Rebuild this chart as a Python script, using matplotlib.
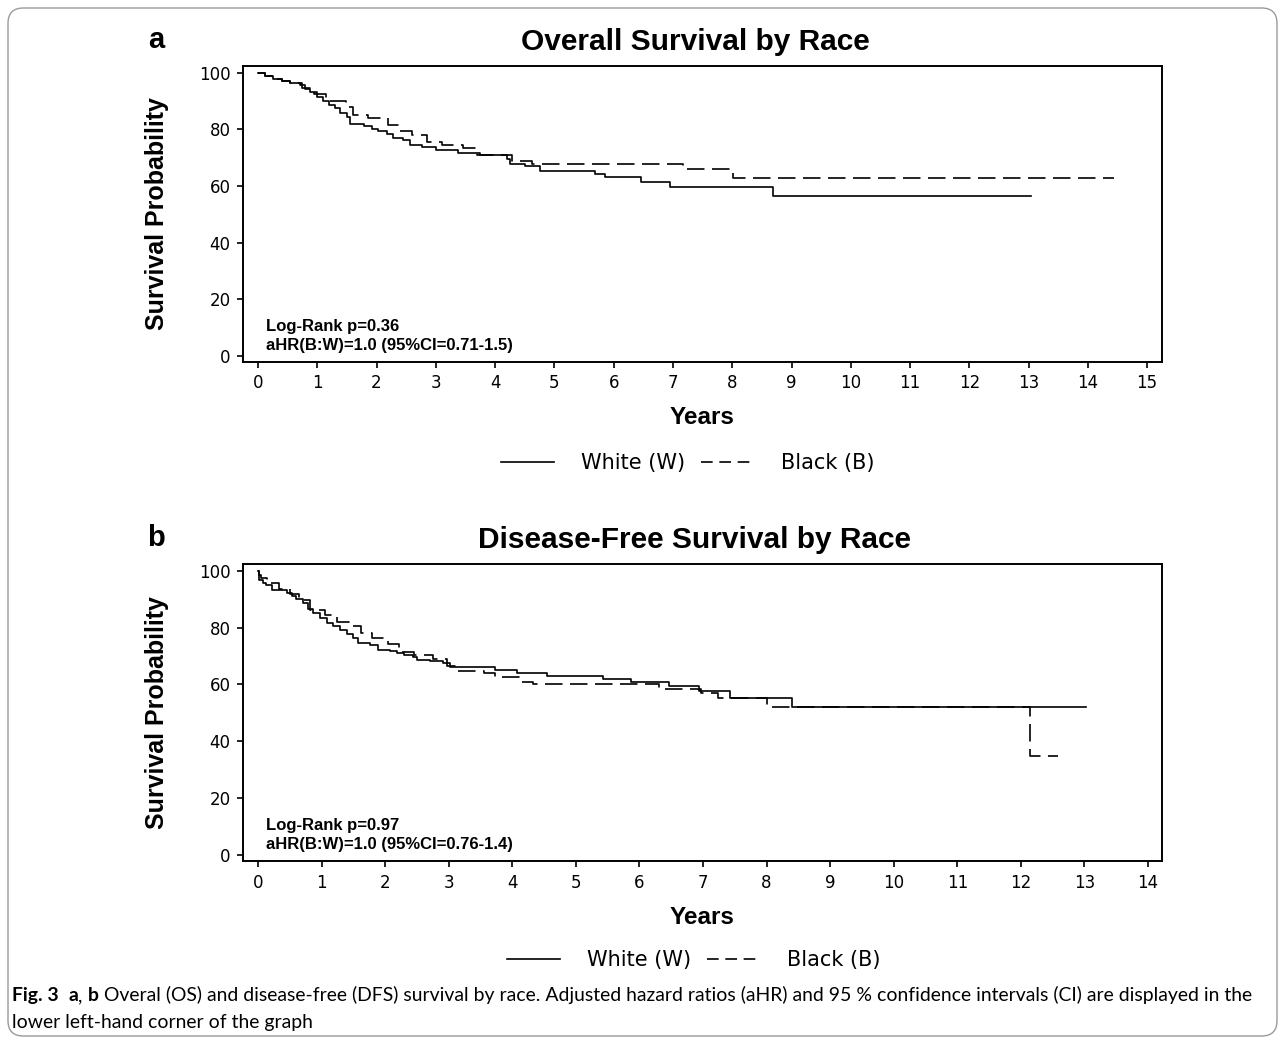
import matplotlib
matplotlib.use('Agg')
import matplotlib.pyplot as plt
from matplotlib.lines import Line2D
from matplotlib.patches import FancyBboxPatch

# Overall survival, step points (years, % surviving)
os_white_t = [0, 0.12, 0.26, 0.40, 0.54, 0.71, 0.79, 0.88, 0.99, 1.10, 1.19, 1.30, 1.38, 1.50,
              1.55, 1.78, 1.92, 2.03, 2.17, 2.28, 2.45, 2.56, 2.76, 3.01, 3.38, 3.75, 4.20, 4.25,
              4.50, 4.76, 5.69, 5.85, 6.46, 6.95, 8.69, 13.04]
os_white_s = [100, 98.7, 97.8, 96.9, 96.2, 95.7, 94.2, 93.1, 91.3, 89.8, 88.4, 87.4, 85.8, 84.3,
              81.9, 81.3, 80.2, 79.2, 78.4, 76.9, 76.1, 74.3, 73.7, 72.5, 71.6, 70.8, 69.6, 67.8,
              66.9, 65.1, 64.3, 63.1, 61.5, 59.7, 56.3, 56.3]
os_black_t = [0, 0.12, 0.26, 0.40, 0.54, 0.75, 0.95, 1.15, 1.48, 1.60, 1.85, 2.20, 2.40, 2.60,
              2.85, 3.10, 3.45, 3.70, 4.28, 4.63, 7.17, 8.02, 14.44]
os_black_s = [100, 98.7, 97.8, 96.9, 96.2, 94.5, 92.5, 90.1, 88.0, 85.0, 83.9, 81.6, 79.5, 78.1,
              75.5, 74.6, 73.5, 71.0, 68.7, 67.8, 65.8, 62.9, 62.9]

# Disease-free survival
dfs_white_t = [0, 0.01, 0.08, 0.13, 0.22, 0.45, 0.53, 0.60, 0.71, 0.79, 0.87, 0.98, 1.08, 1.18,
               1.29, 1.40, 1.50, 1.58, 1.76, 1.89, 2.08, 2.18, 2.29, 2.44, 2.50, 2.71, 2.91, 3.02,
               3.73, 4.07, 4.54, 5.43, 5.86, 6.47, 6.94, 7.43, 8.40, 13.02]
dfs_white_s = [100, 96.8, 95.7, 94.8, 93.3, 92.1, 90.9, 90.1, 88.6, 86.6, 85.1, 83.3, 81.6, 80.4,
               79.2, 77.6, 76.2, 74.5, 73.9, 72.2, 71.8, 71.0, 70.4, 69.5, 68.7, 68.1, 67.4, 66.3,
               65.1, 63.9, 63.0, 62.0, 60.7, 59.3, 57.7, 55.2, 52.0, 52.0]
dfs_black_t = [0, 0.01, 0.04, 0.14, 0.33, 0.50, 0.65, 0.82, 1.05, 1.24, 1.43, 1.62, 1.80, 2.05,
               2.22, 2.45, 2.76, 2.98, 3.15, 3.55, 3.73, 4.10, 4.33, 6.31, 6.97, 7.23, 8.00,
               12.14, 12.59]
dfs_black_s = [100, 98.6, 97.5, 95.7, 93.5, 91.7, 89.5, 86.1, 84.5, 82.1, 80.6, 78.2, 76.3, 74.3,
               71.4, 70.2, 69.0, 66.5, 64.7, 64.0, 62.5, 60.9, 60.2, 58.5, 57.0, 55.2, 52.1,
               35.0, 35.0]

y_ticks = [0, 20, 40, 60, 80, 100]
os_x_ticks = list(range(0, 16))
dfs_x_ticks = list(range(0, 15))

series_names = ['White (W)', 'Black (B)']
panels = [
    dict(letter='a', title='Overall Survival by Race', white=(os_white_t, os_white_s),
         black=(os_black_t, os_black_s), xticks=os_x_ticks, xlim=(-0.253, 15.25),
         stats=['Log-Rank p=0.36', 'aHR(B:W)=1.0 (95%CI=0.71-1.5)']),
    dict(letter='b', title='Disease-Free Survival by Race', white=(dfs_white_t, dfs_white_s),
         black=(dfs_black_t, dfs_black_s), xticks=dfs_x_ticks, xlim=(-0.236, 14.22),
         stats=['Log-Rank p=0.97', 'aHR(B:W)=1.0 (95%CI=0.76-1.4)']),
]

W, H = 1284, 1040
fig = plt.figure(figsize=(W / 100, H / 100), dpi=100)
arial = 'Liberation Sans'
verdana = 'DejaVu Sans'

# outer rounded frame
frame = FancyBboxPatch((8 / W, 4 / H), (1277 - 8) / W, (1032 - 4) / H,
                       boxstyle='round,pad=0,rounding_size=0.012', mutation_aspect=W / H,
                       transform=fig.transFigure, facecolor='none', edgecolor='#9a9a9a',
                       linewidth=1.0)
fig.patches.append(frame)

# pixel geometry of each panel: (top, bottom) of axes box, title y, legend y, legend centre x
geom = [(66, 361.7, 40, 463, 688), (564, 861, 538, 960, 694)]
dash = (0, (10.5, 4.5))

for p, (top, bot, ty, ly, lx) in zip(panels, geom):
    ax = fig.add_axes([243 / W, 1 - bot / H, (1162 - 243) / W, (bot - top) / H])
    ax.step(p['white'][0], p['white'][1], where='post', color='black', lw=1.2)
    ax.step(p['black'][0], p['black'][1], where='post', color='black', lw=1.2, linestyle=dash)
    ax.set_xlim(*p['xlim'])
    ax.set_ylim(-2.0, 102.3)
    ax.set_xticks(p['xticks'])
    ax.set_yticks(y_ticks)
    for s in ax.spines.values():
        s.set_linewidth(1.4)
    ax.tick_params(direction='out', length=4, width=1.2, labelsize=12, pad=5)
    for lab in ax.get_xticklabels() + ax.get_yticklabels():
        lab.set_fontfamily(verdana)

    ax.text(0.025, 0.03, '\n'.join(p['stats']), transform=ax.transAxes, ha='left', va='bottom',
            fontsize=12, fontweight='bold', family=arial, linespacing=1.3)

    mid = (top + bot) / 2
    fig.text(157 / W, 1 - mid / H, 'Survival Probability', rotation=90, ha='center', va='center',
             fontsize=18, fontweight='bold', family=arial)
    fig.text(702 / W, 1 - (bot + 56) / H, 'Years', ha='center', va='center',
             fontsize=17.5, fontweight='bold', family=arial)
    fig.text(695 / W, 1 - (ty + 2) / H, p['title'], ha='center', va='center',
             fontsize=21.5, fontweight='bold', family=arial)
    fig.text(156 / W, 1 - ty / H, p['letter'], ha='center', va='center',
             fontsize=21, fontweight='bold', family=arial)

    handles = [Line2D([], [], color='black', lw=1.2),
               Line2D([], [], color='black', lw=1.2, linestyle=(0, (7, 4)))]
    ax.legend(handles, series_names, loc='center', bbox_to_anchor=(lx / W, 1 - ly / H),
              bbox_transform=fig.transFigure, ncol=2, frameon=False,
              prop={'family': verdana, 'size': 15}, handlelength=2.55, handletextpad=1.3,
              columnspacing=0.75)

# caption: bold and regular runs placed side by side by measuring each run
cap_font = 'Lato'
cap_size = 13.95
pieces = [('Fig. 3', 'bold'), ('  ', 'normal'), ('a', 'bold'), (', ', 'normal'), ('b', 'bold'),
          (' Overal (OS) and disease-free (DFS) survival by race. Adjusted hazard ratios (aHR) '
           'and 95 % confidence intervals (CI) are displayed in the', 'normal')]
renderer = fig.canvas.get_renderer()
x = 12
for txt, wt in pieces:
    t = fig.text(x / W, 1 - 1001 / H, txt, ha='left', va='baseline', fontsize=cap_size,
                 fontweight=wt, family=cap_font)
    x += t.get_window_extent(renderer).width
fig.text(12 / W, 1 - 1028 / H, 'lower left-hand corner of the graph', ha='left', va='baseline',
         fontsize=cap_size, family=cap_font)

fig.savefig('out.png', dpi=100)
